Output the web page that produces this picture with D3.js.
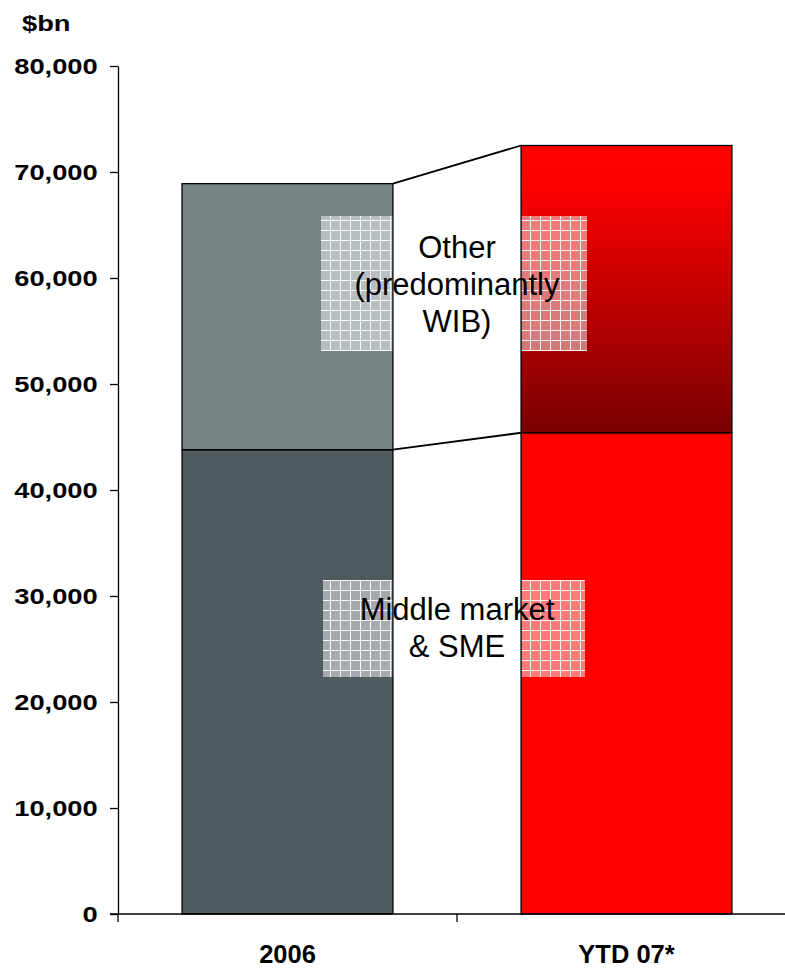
<!DOCTYPE html>
<html>
<head>
<meta charset="utf-8">
<script src="https://cdn.jsdelivr.net/npm/d3@7/dist/d3.min.js"></script>
<style>
  html, body { margin: 0; padding: 0; background: #fff; }
  svg { display: block; }
  text { font-family: "Liberation Sans", Arial, Helvetica, sans-serif; }
</style>
</head>
<body>
<svg id="chart" width="785" height="968"></svg>
<script>
// Lending volumes by segment, $bn
const categories = ["2006", "YTD 07*"];
const middleMarket = [43800, 45400];
const other = [25100, 27100];
const yTicks = [0, 10000, 20000, 30000, 40000, 50000, 60000, 70000, 80000];
const segmentLabels = [
  { lines: ["Other", "(predominantly", "WIB)"] },
  { lines: ["Middle market", "& SME"] }
];

const svg = d3.select("#chart");
const W = 785, H = 968;

const x = d3.scaleBand()
  .domain(categories)
  .range([118, 796])
  .paddingInner(0.378)
  .paddingOuter(0.189);

const y = d3.scaleLinear().domain([0, 80000]).range([914, 66]);

const defs = svg.append("defs");

// Red gradient for the upper segment of the second bar
const grad = defs.append("linearGradient")
  .attr("id", "redFade").attr("x1", 0).attr("y1", 0).attr("x2", 0).attr("y2", 1);
grad.append("stop").attr("offset", "0%").attr("stop-color", "#ff0000");
grad.append("stop").attr("offset", "15%").attr("stop-color", "#fb0000");
grad.append("stop").attr("offset", "100%").attr("stop-color", "#780000");

// Translucent white grid used behind the segment labels
const grid = defs.append("pattern")
  .attr("id", "gridFill").attr("patternUnits", "userSpaceOnUse")
  .attr("width", 10).attr("height", 10);
grid.append("rect").attr("width", 10).attr("height", 10).attr("fill", "#fff").attr("fill-opacity", 0.48);
grid.append("rect").attr("x", 0).attr("y", 0).attr("width", 10).attr("height", 1).attr("fill", "#fff").attr("fill-opacity", 0.9);
grid.append("rect").attr("x", 0).attr("y", 1).attr("width", 1).attr("height", 9).attr("fill", "#fff").attr("fill-opacity", 0.9);

const bottomColors = ["#4f5b5f", "#ff0000"];
const topColors = ["#778587", "url(#redFade)"];

const rows = categories.map((c, i) => ({
  cat: c,
  mm: middleMarket[i],
  total: middleMarket[i] + other[i]
}));

// Segment fills
const bars = svg.append("g");
rows.forEach((d, i) => {
  bars.append("rect")
    .attr("x", x(d.cat)).attr("width", x.bandwidth())
    .attr("y", y(d.mm)).attr("height", y(0) - y(d.mm))
    .attr("fill", bottomColors[i]);
  bars.append("rect")
    .attr("x", x(d.cat)).attr("width", x.bandwidth())
    .attr("y", y(d.total)).attr("height", y(d.mm) - y(d.total))
    .attr("fill", topColors[i]);
});

// Label backgrounds
const cx = (x(categories[0]) + x.bandwidth() + x(categories[1])) / 2;
const lineH = 37;
const boxes = [
  { x0: 321, x1: 587, y0: 216, y1: 351 },
  { x0: 323, x1: 585, y0: 580, y1: 677 }
];
boxes.forEach(b => {
  svg.append("rect")
    .attr("x", b.x0).attr("y", b.y0)
    .attr("width", b.x1 - b.x0).attr("height", b.y1 - b.y0)
    .attr("fill", "url(#gridFill)");
});

// Segment outlines
const outlines = svg.append("g").attr("fill", "none").attr("stroke", "#000").attr("stroke-width", 1.3);
rows.forEach(d => {
  outlines.append("rect")
    .attr("x", x(d.cat)).attr("width", x.bandwidth())
    .attr("y", y(d.mm)).attr("height", y(0) - y(d.mm));
  outlines.append("rect")
    .attr("x", x(d.cat)).attr("width", x.bandwidth())
    .attr("y", y(d.total)).attr("height", y(d.mm) - y(d.total));
});

// Connectors between the two stacks
const a = rows[0], b = rows[1];
const xr = x(a.cat) + x.bandwidth(), xl = x(b.cat);
["mm", "total"].forEach(k => {
  svg.append("line")
    .attr("x1", xr).attr("y1", y(a[k]))
    .attr("x2", xl).attr("y2", y(b[k]))
    .attr("stroke", "#000").attr("stroke-width", 1.8);
});

// Segment labels
const labelTops = [258, 620];
segmentLabels.forEach((s, i) => {
  const t = svg.append("text")
    .attr("text-anchor", "middle")
    .attr("font-size", 31)
    .attr("fill", "#000");
  s.lines.forEach((ln, j) => {
    t.append("tspan").attr("x", cx).attr("y", labelTops[i] + j * lineH).text(ln);
  });
});

// Y axis
const yAxis = svg.append("g")
  .attr("transform", "translate(118,0)")
  .call(d3.axisLeft(y).tickValues(yTicks).tickSize(8).tickSizeOuter(0).tickFormat(d3.format(",")));
yAxis.select(".domain").attr("stroke", "#000").attr("stroke-width", 1.3);
yAxis.selectAll(".tick line").attr("stroke", "#000").attr("stroke-width", 1.3);
yAxis.selectAll(".tick text")
  .attr("x", -16)
  .attr("dy", "0.36em")
  .attr("transform", "scale(1.27,1)")
  .attr("font-size", 21.5)
  .attr("font-weight", "bold")
  .attr("fill", "#000")
  .style("font-family", "'Liberation Sans', Arial, sans-serif");

// X axis
const xAxisG = svg.append("g");
xAxisG.append("line")
  .attr("x1", 110).attr("x2", W).attr("y1", y(0)).attr("y2", y(0))
  .attr("stroke", "#000").attr("stroke-width", 1.3);
const bounds = [x.range()[0], cx, x.range()[1]];
xAxisG.selectAll("line.xt").data(bounds).join("line")
  .attr("class", "xt")
  .attr("x1", d => d).attr("x2", d => d)
  .attr("y1", y(0)).attr("y2", y(0) + 8)
  .attr("stroke", "#000").attr("stroke-width", 1.3);
xAxisG.selectAll("text").data(categories).join("text")
  .attr("x", d => x(d) + x.bandwidth() / 2)
  .attr("y", 963)
  .attr("text-anchor", "middle")
  .attr("font-size", 25.5)
  .attr("font-weight", "bold")
  .attr("fill", "#000")
  .text(d => d);

// Unit label
svg.append("text")
  .attr("transform", "translate(22,31) scale(1.27,1)")
  .attr("font-size", 21.5)
  .attr("font-weight", "bold")
  .attr("fill", "#000")
  .text("$bn");
</script>
</body>
</html>
